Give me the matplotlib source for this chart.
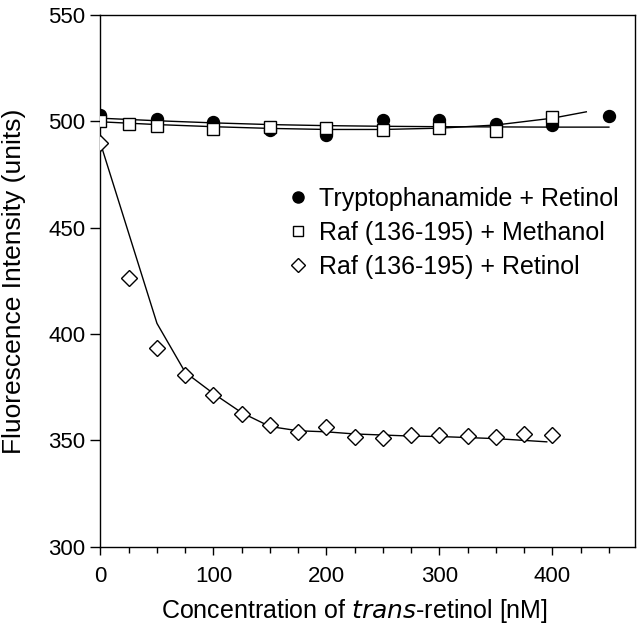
import numpy as np
import matplotlib
matplotlib.use("Agg")
import matplotlib.pyplot as plt
from matplotlib.lines import Line2D
from matplotlib.ticker import MultipleLocator

plt.rcParams['font.family'] = ['Liberation Sans', 'DejaVu Sans']

# measured points
trp_x = [0, 50, 100, 150, 200, 250, 300, 350, 400, 450]
trp_y = [503, 501, 499.5, 496, 493.5, 500.5, 500.5, 499, 498.5, 502.5]

meoh_x = [0, 25, 50, 100, 150, 200, 250, 300, 350, 400]
meoh_y = [500, 499, 498, 496.5, 497.5, 497, 496, 497, 495.5, 502]

ret_x = [0, 25, 50, 75, 100, 125, 150, 175, 200, 225, 250, 275, 300, 325, 350, 375, 400]
ret_y = [489.7, 426.3, 393.4, 380.8, 371.4, 362.5, 357.3, 354, 356.3, 351.6, 351,
         352.5, 352.5, 352.2, 351.5, 353, 352.6]

# fitted curves as drawn in the figure
trp_fit_x = [0, 50, 100, 150, 200, 250, 300, 350, 400, 450]
trp_fit_y = [501.5, 500.3, 499.3, 498.5, 498, 497.7, 497.5, 497.4, 497.3, 497.3]

meoh_fit_x = [0, 50, 100, 150, 200, 250, 300, 350, 400, 430]
meoh_fit_y = [499.8, 498.5, 497.5, 496.7, 496.2, 496.2, 496.8, 498.3, 501.5, 504.5]

ret_fit_x = [0, 50, 75, 100, 125, 150, 175, 200, 225, 250, 275, 300, 325, 350, 395]
ret_fit_y = [489.7, 405, 382, 372, 363, 356.5, 354.5, 354, 353, 352.5, 352, 351.8,
             351.3, 350.8, 349.3]

labels = ['Tryptophanamide + Retinol', 'Raf (136-195) + Methanol', 'Raf (136-195) + Retinol']

fig = plt.figure(figsize=(6.4, 6.33), dpi=100)
ax = fig.add_axes([0.157, 0.1364, 0.835, 0.8398])

lw = 1.0
ax.plot(trp_fit_x, trp_fit_y, color='black', lw=lw, zorder=2)
ax.plot(meoh_fit_x, meoh_fit_y, color='black', lw=lw, zorder=2)
ax.plot(ret_fit_x, ret_fit_y, color='black', lw=lw, zorder=2)

ax.plot(trp_x, trp_y, 'o', ms=8.6, mfc='black', mec='black', ls='none', zorder=3)
ax.plot(meoh_x, meoh_y, 's', ms=8.4, mfc='white', mec='black', mew=1.0, ls='none', zorder=4)
ax.plot(ret_x, ret_y, 'D', ms=8.5, mfc='white', mec='black', mew=1.0, ls='none', zorder=4)

ax.set_xlim(0, 473)
ax.set_ylim(300, 550)
ax.xaxis.set_major_locator(MultipleLocator(100))
ax.xaxis.set_minor_locator(MultipleLocator(25))
ax.yaxis.set_major_locator(MultipleLocator(50))
ax.set_xticks([0, 100, 200, 300, 400])

ax.tick_params(axis='both', which='major', direction='out', labelsize=16, width=1)
ax.tick_params(axis='y', which='major', length=7, pad=4)
ax.tick_params(axis='x', which='major', length=6, pad=8)
ax.tick_params(axis='x', which='minor', direction='out', length=4.5, width=1)

for s in ax.spines.values():
    s.set_linewidth(1.0)

ax.set_xlabel('Concentration of $\\it{trans}$-retinol [nM]', fontsize=18)
ax.set_ylabel('Fluorescence Intensity (units)', fontsize=19)
ax.xaxis.set_label_coords(0.475, -0.095)
ax.yaxis.set_label_coords(-0.14, 0.5)

handles = [
    Line2D([], [], marker='o', ls='none', ms=8, mfc='black', mec='black'),
    Line2D([], [], marker='s', ls='none', ms=7.5, mfc='white', mec='black', mew=1.0),
    Line2D([], [], marker='D', ls='none', ms=7.5, mfc='white', mec='black', mew=1.0),
]
ax.legend(handles, labels, loc='upper left', bbox_to_anchor=(0.33, 0.695),
          frameon=False, fontsize=18, handlelength=0.9, handletextpad=0.4,
          labelspacing=0.4, borderaxespad=0)

fig.savefig('out.png', dpi=100)
